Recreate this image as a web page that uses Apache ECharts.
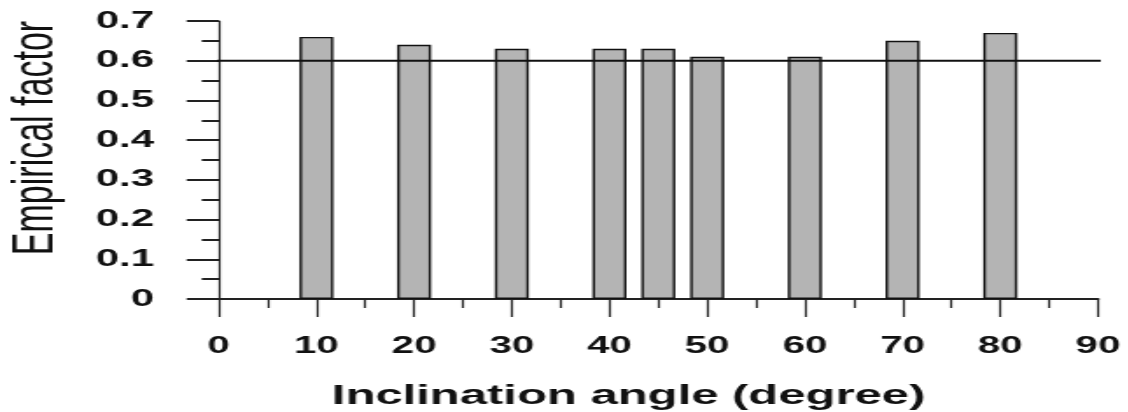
<!DOCTYPE html>
<html>
<head>
<meta charset="utf-8">
<script src="https://cdn.jsdelivr.net/npm/echarts@6/dist/echarts.min.js"></script>
<style>
  html, body { margin: 0; padding: 0; background: #fff; overflow: hidden; }
  /* the reference figure is stretched sideways, so draw narrow and scale x */
  #chart { width: 645px; height: 412px; transform: scaleX(1.75); transform-origin: 0 0; }
</style>
</head>
<body>
<div id="chart"></div>
<script>
const angles = [10, 20, 30, 40, 45, 50, 60, 70, 80]
const factors = [0.66, 0.64, 0.63, 0.63, 0.63, 0.61, 0.61, 0.65, 0.67]
const xTicks = [0, 10, 20, 30, 40, 50, 60, 70, 80, 90]
const yTicks = [0, 0.1, 0.2, 0.3, 0.4, 0.5, 0.6, 0.7]
const refValue = 0.6
const refSpan = [-3.3, 92.4]

const chart = echarts.init(document.getElementById('chart'))
const labelFont = { fontFamily: 'Liberation Sans, Arial, sans-serif', fontWeight: 'bold', color: '#111' }

chart.setOption({
  backgroundColor: '#fff',
  animation: false,
  grid: { left: 125, right: 17.6, top: 21, bottom: 113, containLabel: false },
  title: {
    text: 'Inclination angle (degree)', left: 184.6, top: 377,
    textStyle: { ...labelFont, fontSize: 28 }
  },
  graphic: [{
    type: 'text', x: 20.5, y: 138, rotation: Math.PI / 2,
    style: {
      text: 'Empirical factor', fill: '#111', align: 'center', verticalAlign: 'middle',
      font: '34px "Liberation Sans", Arial, sans-serif'
    }
  }],
  xAxis: {
    type: 'value', min: xTicks[0], max: xTicks[xTicks.length - 1], interval: 10,
    axisLine: { show: true, onZero: false, lineStyle: { color: '#222', width: 2 } },
    axisTick: { show: true, length: 18, lineStyle: { color: '#222', width: 1.2 } },
    minorTick: { show: true, splitNumber: 2, length: 9, lineStyle: { color: '#222', width: 1.2 } },
    axisLabel: { ...labelFont, fontSize: 23, margin: 36 },
    splitLine: { show: false }
  },
  yAxis: {
    type: 'value', min: yTicks[0], max: yTicks[yTicks.length - 1], interval: 0.1,
    axisLine: { show: true, onZero: false, lineStyle: { color: '#222', width: 1.2 } },
    axisTick: { show: true, length: 18.3, lineStyle: { color: '#222', width: 2 } },
    minorTick: { show: true, splitNumber: 2, length: 9.7, lineStyle: { color: '#222', width: 2 } },
    axisLabel: { ...labelFont, fontSize: 24, margin: 37, formatter: v => String(+v.toFixed(1)) },
    splitLine: { show: false }
  },
  series: [
    {
      type: 'bar', barWidth: 19.4,
      data: angles.map((a, i) => [a, factors[i]]),
      itemStyle: { color: '#b4b4b4', borderColor: '#111', borderWidth: 1.4 }
    },
    {
      type: 'line', clip: false, symbol: 'none', z: 5,
      data: refSpan.map(x => [x, refValue]),
      lineStyle: { color: '#111', width: 2 }
    }
  ]
})
</script>
</body>
</html>
